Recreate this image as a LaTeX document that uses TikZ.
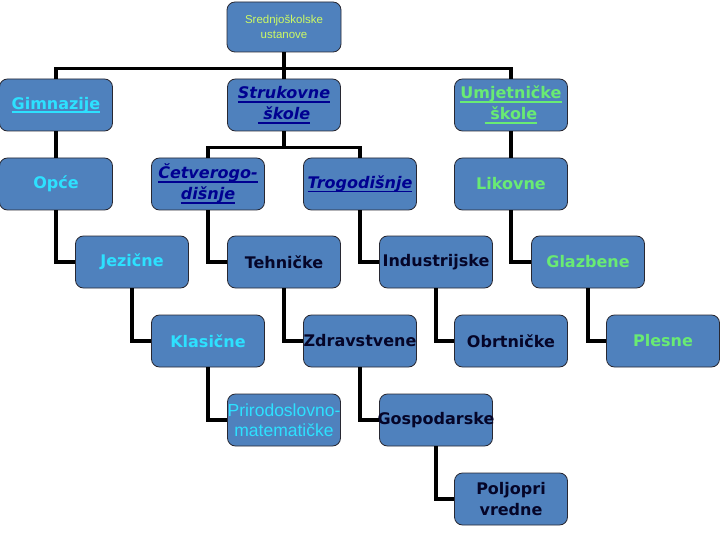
\documentclass[tikz,border=0pt]{standalone}
\usepackage{fontspec}
\setmainfont{DejaVu Sans}
\newfontfamily\arialfont{Liberation Sans}
\usepackage{tikz}
\usetikzlibrary{arrows,shapes,positioning}
\usepackage{xcolor}
\definecolor{sbfill}{RGB}{79,129,189}
\definecolor{sbedge}{RGB}{40,40,50}
\definecolor{sbcyan}{RGB}{45,225,255}
\definecolor{sbgreen}{RGB}{105,235,115}
\definecolor{sbnavy}{RGB}{0,0,145}
\definecolor{sbdark}{RGB}{5,5,40}
\definecolor{sbyellow}{RGB}{205,250,100}
\newcommand{\undl}[1]{\setbox0\hbox{#1}\rlap{\vrule height -2.4pt depth 4pt width \wd0}\box0}
\tikzstyle{conn} = [line width=3.5pt,draw=black]
\tikzstyle{school} = [rectangle, rounded corners=8pt, minimum width=113pt, minimum height=52pt, inner sep=1pt, text centered, align=center, draw=sbedge, fill=sbfill, line width=0.8pt, font=\fontsize{16}{21}\selectfont\bfseries]
\tikzstyle{gimn} = [school, text=sbcyan]
\tikzstyle{umjet} = [school, text=sbgreen]
\tikzstyle{struk} = [school, text=sbnavy, font=\fontsize{16}{21}\selectfont\bfseries\itshape]
\tikzstyle{stru3} = [school, text=sbdark]

\begin{document}
\begin{tikzpicture}[x=1pt, y=-1pt]
\useasboundingbox (0,0) rectangle (720,540);
% Root
\node[school, minimum height=50pt, minimum width=114pt, text=sbyellow, font=\arialfont\fontsize{11.5}{15}\selectfont] (root) at (284,27) {Srednjoškolske\\ustanove};

% First level
\node[gimn] (gim) at (56,105) {\undl{Gimnazije}};
\node[struk] (strk) at (284,105) {\undl{Strukovne}\\\undl{\ škole}};
\node[umjet] (umj) at (511,105) {\undl{Umjetničke}\\\undl{\ škole}};

% Second level
\node[gimn] (opce) at (56,184) {Opće};
\node[struk] (cetv) at (208,184) {\undl{Četverogo-}\\\undl{dišnje}};
\node[struk] (trog) at (360,184) {\undl{Trogodišnje}};
\node[umjet] (likov) at (511,184) {Likovne};

% Third level
\node[gimn] (jez) at (132,262) {Jezične};
\node[stru3] (teh) at (284,262) {Tehničke};
\node[stru3] (ind) at (436,262) {Industrijske};
\node[umjet] (glaz) at (588,262) {Glazbene};

% Fourth level
\node[gimn] (klas) at (208,341) {Klasične};
\node[stru3] (zdr) at (360,341) {\makebox[108pt]{Zdravstvene}};
\node[stru3] (obrt) at (511,341) {Obrtničke};
\node[umjet] (ples) at (663,341) {Plesne};

% Fifth and sixth level
\node[gimn, font=\arialfont\fontsize{17.5}{20}\selectfont] (prir) at (284,420) {\makebox[108pt]{Prirodoslovno-}\\matematičke};
\node[stru3] (gosp) at (436,420) {\makebox[108pt]{Gospodarske}};
\node[stru3] (polj) at (511,499) {Poljopri\\vredne};

% Connections
\draw[conn] (root.south) -- (strk.north);
\draw[conn] (gim.north) -- ++(0,-10) -| (umj.north);
\draw[conn] (gim.south) -- (opce.north);
\draw[conn] (umj.south) -- (likov.north);
\draw[conn] (strk.south) -- ++(0,16) -| (cetv.north);
\draw[conn] (strk.south) ++(0,16) -| (trog.north);
\draw[conn] (opce.south) |- (jez.west);
\draw[conn] (cetv.south) |- (teh.west);
\draw[conn] (trog.south) |- (ind.west);
\draw[conn] (likov.south) |- (glaz.west);
\draw[conn] (jez.south) |- (klas.west);
\draw[conn] (teh.south) |- (zdr.west);
\draw[conn] (ind.south) |- (obrt.west);
\draw[conn] (glaz.south) |- (ples.west);
\draw[conn] (klas.south) |- (prir.west);
\draw[conn] (zdr.south) |- (gosp.west);
\draw[conn] (gosp.south) |- (polj.west);
\end{tikzpicture}
\end{document}
